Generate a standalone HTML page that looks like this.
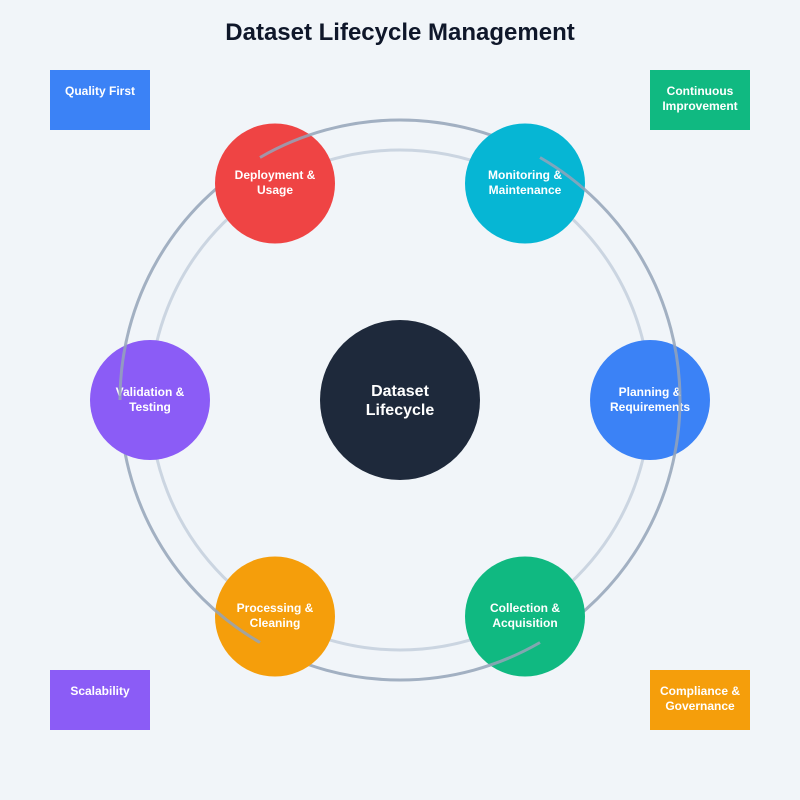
<!DOCTYPE html>
<html><head><meta charset="utf-8"><style>
html,body{margin:0;padding:0;background:#f1f5f9;}
svg{display:block;font-family:"Liberation Sans",Arial,sans-serif;}
</style></head><body>
<svg width="800" height="800" viewBox="0 0 800 800">
<rect width="800" height="800" fill="#f1f5f9"/>
<text x="400" y="40" text-anchor="middle" font-size="24" font-weight="bold" fill="#0f172a">Dataset Lifecycle Management</text>
<rect x="50" y="70" width="100" height="60" fill="#3b82f6"/>
<text x="100" y="95" text-anchor="middle" font-size="12" font-weight="bold" fill="#fff">Quality First</text>
<rect x="650" y="70" width="100" height="60" fill="#10b981"/>
<text x="700" y="95" text-anchor="middle" font-size="12" font-weight="bold" fill="#fff">Continuous</text>
<text x="700" y="110" text-anchor="middle" font-size="12" font-weight="bold" fill="#fff">Improvement</text>
<rect x="50" y="670" width="100" height="60" fill="#8b5cf6"/>
<text x="100" y="695" text-anchor="middle" font-size="12" font-weight="bold" fill="#fff">Scalability</text>
<rect x="650" y="670" width="100" height="60" fill="#f59e0b"/>
<text x="700" y="695" text-anchor="middle" font-size="12" font-weight="bold" fill="#fff">Compliance &amp;</text>
<text x="700" y="710" text-anchor="middle" font-size="12" font-weight="bold" fill="#fff">Governance</text>
<circle cx="400" cy="400" r="250" fill="none" stroke="#cbd5e1" stroke-width="3"/>
<g font-size="12" font-weight="bold" fill="#fff" text-anchor="middle">
<circle cx="650" cy="400" r="60" fill="#3b82f6"/>
<text x="650" y="396">Planning &amp;</text><text x="650" y="411">Requirements</text>
<path d="M680 400 A280 280 0 0 1 540 642.5" fill="none" stroke="#94a3b8" stroke-width="3" opacity="0.85"/>
<circle cx="525" cy="616.5" r="60" fill="#10b981"/>
<text x="525" y="612">Collection &amp;</text><text x="525" y="627">Acquisition</text>
<path d="M540 642.5 A280 280 0 0 1 260 642.5" fill="none" stroke="#94a3b8" stroke-width="3" opacity="0.85"/>
<circle cx="275" cy="616.5" r="60" fill="#f59e0b"/>
<text x="275" y="612">Processing &amp;</text><text x="275" y="627">Cleaning</text>
<path d="M260 642.5 A280 280 0 0 1 120 400" fill="none" stroke="#94a3b8" stroke-width="3" opacity="0.85"/>
<circle cx="150" cy="400" r="60" fill="#8b5cf6"/>
<text x="150" y="396">Validation &amp;</text><text x="150" y="411">Testing</text>
<path d="M120 400 A280 280 0 0 1 260 157.5" fill="none" stroke="#94a3b8" stroke-width="3" opacity="0.85"/>
<circle cx="275" cy="183.5" r="60" fill="#ef4444"/>
<text x="275" y="179">Deployment &amp;</text><text x="275" y="194">Usage</text>
<path d="M260 157.5 A280 280 0 0 1 540 157.5" fill="none" stroke="#94a3b8" stroke-width="3" opacity="0.85"/>
<circle cx="525" cy="183.5" r="60" fill="#06b6d4"/>
<text x="525" y="179">Monitoring &amp;</text><text x="525" y="194">Maintenance</text>
<path d="M540 157.5 A280 280 0 0 1 680 400" fill="none" stroke="#94a3b8" stroke-width="3" opacity="0.85"/>
</g>
<circle cx="400" cy="400" r="80" fill="#1e293b"/>
<text x="400" y="396" text-anchor="middle" font-size="16" font-weight="bold" fill="#fff">Dataset</text>
<text x="400" y="415" text-anchor="middle" font-size="16" font-weight="bold" fill="#fff">Lifecycle</text>
</svg>
</body></html>
